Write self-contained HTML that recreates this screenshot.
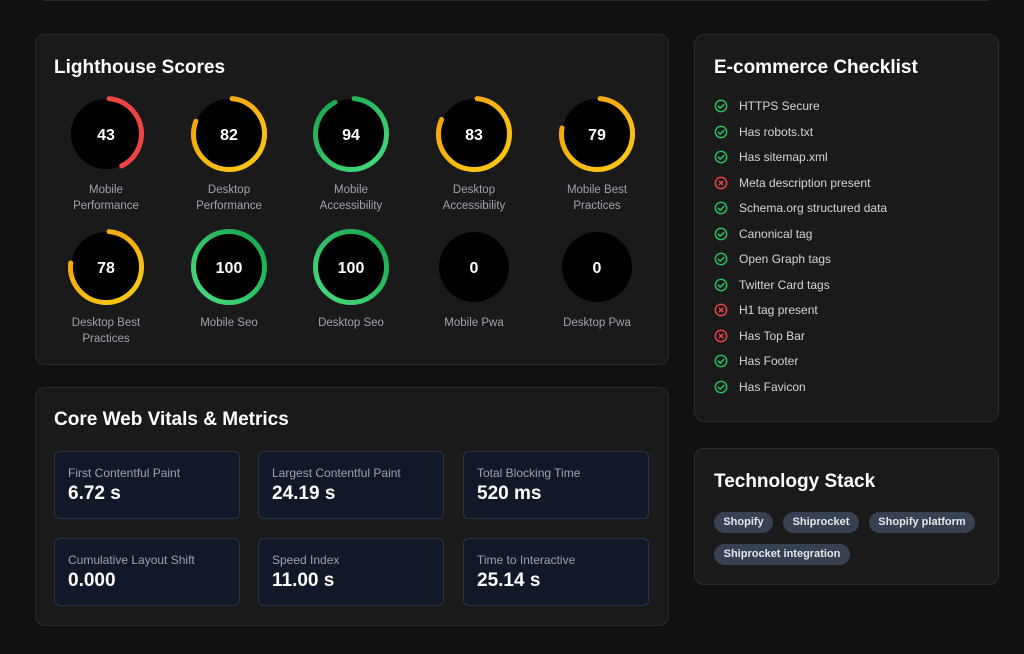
<!DOCTYPE html>
<html><head><meta charset="utf-8"><style>
*{margin:0;padding:0;box-sizing:border-box}
body{width:1024px;height:654px;background:#111111;font-family:"Liberation Sans",sans-serif;position:relative;overflow:hidden;color:#fff}
.card{position:absolute;background:#1a1a1a;border:1px solid #2c2c2c;border-radius:10px}
h2{position:absolute;font-size:19px;font-weight:bold;color:#fff}
.gl{position:absolute;width:120px;text-align:center;font-size:11.5px;line-height:16px;color:#9ca3af}
.m{position:absolute;width:186px;height:68px;background:#111827;border:1px solid #2a3446;border-radius:6px}
.m .l{position:absolute;left:13px;top:14px;font-size:12px;color:#9ca3af}
.m .v{position:absolute;left:13px;top:31px;font-size:19px;font-weight:bold;color:#fff}
.ci{position:absolute;left:20px;font-size:12px;color:#d1d5db}
.ci svg{position:absolute;left:0;top:0}
.ci span{position:absolute;left:25px;top:0;white-space:nowrap}
.tag{position:absolute;height:21px;background:#374151;border-radius:11px;font-size:11px;font-weight:bold;color:#e5e7eb;line-height:21px;text-align:center;white-space:nowrap}
</style></head><body>
<div class="card" style="left:37px;top:-20px;width:959px;height:21px"></div>

<div class="card" style="left:35px;top:34px;width:634px;height:331px">
<h2 style="left:18px;top:22px">Lighthouse Scores</h2>
</div>
<svg style="position:absolute;left:0;top:0" width="1024" height="400">
<defs>
<linearGradient id="y" x1="0" y1="1" x2="1" y2="0"><stop offset="0" stop-color="#facc15"/><stop offset="1" stop-color="#f59e0b"/></linearGradient>
<linearGradient id="gr" x1="0" y1="1" x2="1" y2="0"><stop offset="0" stop-color="#4ade80"/><stop offset="1" stop-color="#16a34a"/></linearGradient>
</defs>
<g font-family="Liberation Sans" font-weight="bold" font-size="16" fill="#fff" text-anchor="middle">
<circle cx="106" cy="134" r="35" fill="#000"/><circle cx="106" cy="134" r="35.5" fill="none" stroke="#ef4444" stroke-width="5" stroke-linecap="round" stroke-dasharray="92 300" transform="rotate(-85 106 134)"/><text x="106" y="140">43</text>
<circle cx="229" cy="134" r="35" fill="#000"/><circle cx="229" cy="134" r="35.5" fill="none" stroke="url(#y)" stroke-width="5" stroke-linecap="round" stroke-dasharray="177 300" transform="rotate(-85 229 134)"/><text x="229" y="140">82</text>
<circle cx="351" cy="134" r="35" fill="#000"/><circle cx="351" cy="134" r="35.5" fill="none" stroke="url(#gr)" stroke-width="5" stroke-linecap="round" stroke-dasharray="203 300" transform="rotate(-85 351 134)"/><text x="351" y="140">94</text>
<circle cx="474" cy="134" r="35" fill="#000"/><circle cx="474" cy="134" r="35.5" fill="none" stroke="url(#y)" stroke-width="5" stroke-linecap="round" stroke-dasharray="179 300" transform="rotate(-85 474 134)"/><text x="474" y="140">83</text>
<circle cx="597" cy="134" r="35" fill="#000"/><circle cx="597" cy="134" r="35.5" fill="none" stroke="url(#y)" stroke-width="5" stroke-linecap="round" stroke-dasharray="170 300" transform="rotate(-85 597 134)"/><text x="597" y="140">79</text>
<circle cx="106" cy="267" r="35" fill="#000"/><circle cx="106" cy="267" r="35.5" fill="none" stroke="url(#y)" stroke-width="5" stroke-linecap="round" stroke-dasharray="168 300" transform="rotate(-85 106 267)"/><text x="106" y="273">78</text>
<circle cx="229" cy="267" r="35" fill="#000"/><circle cx="229" cy="267" r="35.5" fill="none" stroke="url(#gr)" stroke-width="5"/><text x="229" y="273">100</text>
<circle cx="351" cy="267" r="35" fill="#000"/><circle cx="351" cy="267" r="35.5" fill="none" stroke="url(#gr)" stroke-width="5"/><text x="351" y="273">100</text>
<circle cx="474" cy="267" r="35" fill="#000"/><text x="474" y="273">0</text>
<circle cx="597" cy="267" r="35" fill="#000"/><text x="597" y="273">0</text>
</g>
</svg>
<div class="gl" style="left:46px;top:182px">Mobile<br>Performance</div>
<div class="gl" style="left:169px;top:182px">Desktop<br>Performance</div>
<div class="gl" style="left:291px;top:182px">Mobile<br>Accessibility</div>
<div class="gl" style="left:414px;top:182px">Desktop<br>Accessibility</div>
<div class="gl" style="left:537px;top:182px">Mobile Best<br>Practices</div>
<div class="gl" style="left:46px;top:315px">Desktop Best<br>Practices</div>
<div class="gl" style="left:169px;top:315px">Mobile Seo</div>
<div class="gl" style="left:291px;top:315px">Desktop Seo</div>
<div class="gl" style="left:414px;top:315px">Mobile Pwa</div>
<div class="gl" style="left:537px;top:315px">Desktop Pwa</div>

<div class="card" style="left:35px;top:387px;width:634px;height:239px">
<h2 style="left:18px;top:21px">Core Web Vitals &amp; Metrics</h2>
</div>
<div class="m" style="left:54px;top:451px"><div class="l">First Contentful Paint</div><div class="v">6.72 s</div></div>
<div class="m" style="left:258px;top:451px"><div class="l">Largest Contentful Paint</div><div class="v">24.19 s</div></div>
<div class="m" style="left:463px;top:451px"><div class="l">Total Blocking Time</div><div class="v">520 ms</div></div>
<div class="m" style="left:54px;top:538px"><div class="l">Cumulative Layout Shift</div><div class="v">0.000</div></div>
<div class="m" style="left:258px;top:538px"><div class="l">Speed Index</div><div class="v">11.00 s</div></div>
<div class="m" style="left:463px;top:538px"><div class="l">Time to Interactive</div><div class="v">25.14 s</div></div>

<div class="card" style="left:694px;top:34px;width:305px;height:388px">
<h2 style="left:19px;top:22px">E-commerce Checklist</h2>
</div>
<div id="cl"></div>
<script>
var items=[["HTTPS Secure",1],["Has robots.txt",1],["Has sitemap.xml",1],["Meta description present",0],["Schema.org structured data",1],["Canonical tag",1],["Open Graph tags",1],["Twitter Card tags",1],["H1 tag present",0],["Has Top Bar",0],["Has Footer",1],["Has Favicon",1]];
var h="";items.forEach(function(it,i){var y=99+i*25.5;var c=it[1]?"#22c55e":"#ef4444";
var ic=it[1]?'<path d="M4.2 7.2l2 2 3.6-3.8" fill="none" stroke="'+c+'" stroke-width="1.5" stroke-linecap="round" stroke-linejoin="round"/>':'<path d="M5.3 5.3l3.4 3.4M8.7 5.3l-3.4 3.4" stroke="'+c+'" stroke-width="1.4" stroke-linecap="round"/>';
h+='<div class="ci" style="left:714px;top:'+y+'px"><svg width="14" height="14"><circle cx="7" cy="7" r="5.7" fill="none" stroke="'+c+'" stroke-width="1.4"/>'+ic+'</svg><span>'+it[0]+'</span></div>';});
document.getElementById("cl").innerHTML=h;
</script>

<div class="card" style="left:694px;top:448px;width:305px;height:137px">
<h2 style="left:19px;top:22px">Technology Stack</h2>
</div>
<div class="tag" style="left:714px;top:512px;width:59px">Shopify</div>
<div class="tag" style="left:783px;top:512px;width:76px">Shiprocket</div>
<div class="tag" style="left:869px;top:512px;width:106px">Shopify platform</div>
<div class="tag" style="left:714px;top:544px;width:136px">Shiprocket integration</div>
</body></html>
